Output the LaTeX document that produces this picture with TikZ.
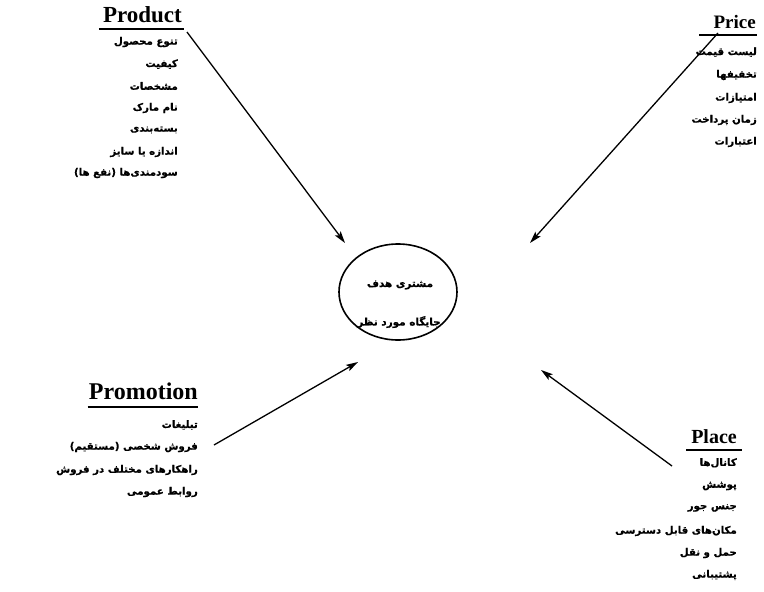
\documentclass[tikz,border=0pt]{standalone}
\usepackage{fontspec}
\setmainfont{Liberation Serif}
\newfontfamily\fa[Script=Arabic,FakeBold=0.8]{DejaVu Sans}
\TeXXeTstate=1
\usetikzlibrary{arrows.meta,shapes.geometric}
\begin{document}
\begin{tikzpicture}[x=1pt,y=-1pt,
  head/.style={font=\fontsize{#1}{22}\selectfont\bfseries, anchor=base east, inner sep=0pt},
  head/.default=21,
  item/.style={font=\fa\bfseries\fontsize{10.2}{12}\selectfont, anchor=east, inner sep=0pt},
  mid/.style={font=\fa\bfseries\fontsize{10.4}{12}\selectfont, inner sep=0pt},
  arr/.style={line width=1.3pt, -{Stealth[length=12pt,width=7pt,inset=2.5pt]}},
  uline/.style={line width=1.7pt}]
\useasboundingbox (0,0) rectangle (764,592);

% centre
\node[draw, ellipse, line width=1.6pt, minimum width=118, minimum height=96, inner sep=0pt] (target) at (398,292) {};
\node[mid] (c1) at (400,285) {\beginR مشتری هدف\endR};
\node[mid] (c2) at (399,322) {\beginR جایگاه مورد نظر\endR};

% Product
\node[head=23] (prod) at (182,22) {Product};
\draw[uline] ([xshift=-4pt,yshift=-7pt]prod.base west) -- ([xshift=2pt,yshift=-7pt]prod.base east);
\node[item] (p1) at (178,42) {\beginR تنوع محصول\endR};
\node[item] (p2) at (178,64) {\beginR کیفیت\endR};
\node[item] (p3) at (178,86) {\beginR مشخصات\endR};
\node[item] (p4) at (178,108) {\beginR نام مارک\endR};
\node[item] (p5) at (178,130) {\beginR بسته‌بندی\endR};
\node[item] (p6) at (178,152) {\beginR اندازه یا سایز\endR};
\node[item] (p7) at (178,173) {\beginR سودمندی‌ها (نفع ها)\endR};

% Price
\node[head=19] (price) at (756,28) {Price};
\draw[uline] ([xshift=-14pt,yshift=-7pt]price.base west) -- ([xshift=1pt,yshift=-7pt]price.base east);
\node[item] (r1) at (757,52) {\beginR لیست قیمت\endR};
\node[item] (r2) at (757,75) {\beginR تخفیفها\endR};
\node[item] (r3) at (757,98) {\beginR امتیازات\endR};
\node[item] (r4) at (757,120) {\beginR زمان پرداخت\endR};
\node[item] (r5) at (757,142) {\beginR اعتبارات\endR};

% Promotion
\node[head=24] (promo) at (198,399) {Promotion};
\draw[uline] ([xshift=-1pt,yshift=-8pt]promo.base west) -- ([xshift=0pt,yshift=-8pt]promo.base east);
\node[item] (m1) at (198,425) {\beginR تبلیغات\endR};
\node[item] (m2) at (198,447) {\beginR فروش شخصی (مستقیم)\endR};
\node[item] (m3) at (198,470) {\beginR راهکارهای مختلف در فروش\endR};
\node[item] (m4) at (198,492) {\beginR روابط عمومی\endR};

% Place
\node[head=20] (place) at (737,443) {Place};
\draw[uline] ([xshift=-5pt,yshift=-7pt]place.base west) -- ([xshift=5pt,yshift=-7pt]place.base east);
\node[item] (l1) at (737,463) {\beginR کانال‌ها\endR};
\node[item] (l2) at (737,486) {\beginR پوشش\endR};
\node[item] (l3) at (737,508) {\beginR جنس جور\endR};
\node[item] (l4) at (737,531) {\beginR مکان‌های قابل دسترسی\endR};
\node[item] (l5) at (737,553) {\beginR حمل و نقل\endR};
\node[item] (l6) at (737,575) {\beginR پشتیبانی\endR};

% arrows
\coordinate (a1s) at (187,32);  \coordinate (a1e) at (345,243);
\coordinate (a2s) at (718,33);  \coordinate (a2e) at (530,243);
\coordinate (a3s) at (214,445); \coordinate (a3e) at (358,362);
\coordinate (a4s) at (672,466); \coordinate (a4e) at (541,370);
\draw[arr] (a1s) -- (a1e);
\draw[arr] (a2s) -- (a2e);
\draw[arr] (a3s) -- (a3e);
\draw[arr] (a4s) -- (a4e);
\end{tikzpicture}
\end{document}
